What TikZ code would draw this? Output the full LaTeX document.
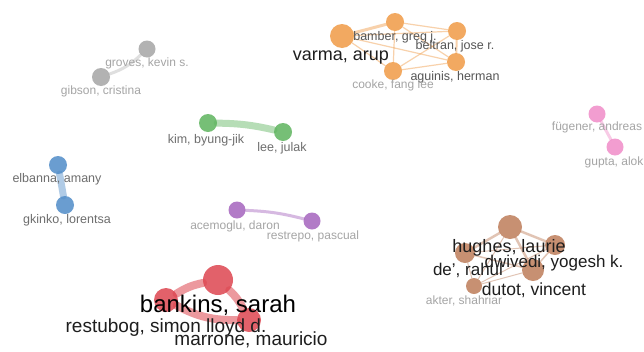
\documentclass[tikz,border=0pt]{standalone}
\usepackage{fontspec}
\setmainfont{Liberation Sans}
\begin{document}
\begin{tikzpicture}[x=1pt,y=-1pt,
  vn/.style={circle,inner sep=0pt,minimum size=#1,fill opacity=0.85,draw=none},
  lab/.style={inner sep=0pt,anchor=center},
  fs/.style={font=\fontsize{#1}{#1}\selectfont},
  ed/.style={line cap=round,draw opacity=0.45}]
\definecolor{corange}{RGB}{240,155,70}
\definecolor{cred}{RGB}{222,70,80}
\definecolor{cgreen}{RGB}{95,180,95}
\definecolor{cblue}{RGB}{80,140,200}
\definecolor{cpurple}{RGB}{165,100,190}
\definecolor{cpink}{RGB}{240,140,200}
\definecolor{cbrown}{RGB}{190,125,90}
\definecolor{cgray}{RGB}{165,165,165}
\definecolor{tdark}{RGB}{30,30,30}
\definecolor{tmid}{RGB}{85,85,85}
\definecolor{tgray}{RGB}{110,110,110}
\definecolor{tlight}{RGB}{165,165,165}
\useasboundingbox (0,0) rectangle (644,351);
\fill[white] (0,0) rectangle (644,351);

% ---------- nodes ----------
% orange
\node[vn=24,fill=corange] (varma) at (342,36) {};
\node[vn=18,fill=corange] (bamber) at (395,22) {};
\node[vn=18,fill=corange] (beltran) at (457,31) {};
\node[vn=18,fill=corange] (aguinis) at (456,62) {};
\node[vn=18,fill=corange] (cooke) at (393,71) {};
% gray
\node[vn=17,fill=cgray] (groves) at (147,49) {};
\node[vn=18,fill=cgray] (gibson) at (101,77) {};
% green
\node[vn=18,fill=cgreen] (kim) at (208,123) {};
\node[vn=18,fill=cgreen] (lee) at (283,132) {};
% blue
\node[vn=18,fill=cblue] (elbanna) at (58,165) {};
\node[vn=18,fill=cblue] (gkinko) at (65,205) {};
% purple
\node[vn=17,fill=cpurple] (acemoglu) at (237,210) {};
\node[vn=17,fill=cpurple] (restrepo) at (312,221) {};
% pink
\node[vn=17,fill=cpink] (fugener) at (597,114) {};
\node[vn=17,fill=cpink] (gupta) at (615,147) {};
% brown
\node[vn=24,fill=cbrown] (hughes) at (510,227) {};
\node[vn=20,fill=cbrown] (dwivedi) at (555,245) {};
\node[vn=20,fill=cbrown] (derahul) at (465,253) {};
\node[vn=22,fill=cbrown] (dutot) at (533,270) {};
\node[vn=16,fill=cbrown] (akter) at (474,286) {};
% red
\node[vn=30,fill=cred] (bankins) at (218,280) {};
\node[vn=24,fill=cred] (restubog) at (166,300) {};
\node[vn=24,fill=cred] (marrone) at (249,320) {};

% ---------- edges ----------
\begin{scope}[ed,corange]
\draw[line width=3pt] (varma) -- (bamber);
\draw[line width=1.2pt] (varma) -- (beltran);
\draw[line width=1.2pt] (varma) -- (aguinis);
\draw[line width=1.2pt] (varma) -- (cooke);
\draw[line width=1.2pt] (bamber) -- (beltran);
\draw[line width=1.2pt] (bamber) -- (aguinis);
\draw[line width=1.2pt] (bamber) -- (cooke);
\draw[line width=2pt] (beltran) -- (aguinis);
\draw[line width=1.2pt] (cooke) -- (aguinis);
\draw[line width=1.2pt] (cooke) -- (beltran);
\end{scope}
\draw[ed,cgray,line width=3pt,draw opacity=0.35] (groves) to[bend left=12] (gibson);
\draw[ed,cgreen,line width=7pt] (kim) to[bend left=6] (lee);
\draw[ed,cblue,line width=7pt] (elbanna) -- (gkinko);
\draw[ed,cpurple,line width=3pt] (acemoglu) to[bend left=6] (restrepo);
\draw[ed,cpink,line width=3pt] (fugener) -- (gupta);
\begin{scope}[ed,cbrown]
\draw[line width=2.5pt] (hughes) -- (dwivedi);
\draw[line width=2.5pt] (hughes) -- (derahul);
\draw[line width=2.5pt] (hughes) -- (dutot);
\draw[line width=1pt] (hughes) -- (akter);
\draw[line width=1.5pt] (dwivedi) -- (dutot);
\draw[line width=1pt] (dwivedi) -- (derahul);
\draw[line width=1pt] (dwivedi) -- (akter);
\draw[line width=1.5pt] (derahul) -- (dutot);
\draw[line width=1pt] (derahul) -- (akter);
\draw[line width=1pt] (dutot) -- (akter);
\end{scope}
\begin{scope}[ed,cred,line width=8pt,draw opacity=0.55]
\draw (bankins) to[bend right=10] (restubog);
\draw (bankins) to[bend left=10] (marrone);
\draw (restubog) to[bend right=14] (marrone);
\end{scope}

% ---------- labels ----------
\node[lab,fs=18,text=tdark] at (341,58) {varma, arup};
\node[lab,fs=12.5,text=tmid] at (395,37) {bamber, greg j.};
\node[lab,fs=12.5,text=tmid] at (455,46) {beltran, jose r.};
\node[lab,fs=12.5,text=tmid] at (455,77) {aguinis, herman};
\node[lab,fs=12,text=tlight] at (393,85) {cooke, fang lee};

\node[lab,fs=12,text=tlight] at (147,63) {groves, kevin s.};
\node[lab,fs=12,text=tlight] at (101,91) {gibson, cristina};

\node[lab,fs=12.5,text=tgray] at (206,140) {kim, byung-jik};
\node[lab,fs=12.5,text=tgray] at (282,148) {lee, julak};

\node[lab,fs=12.5,text=tgray] at (57,179) {elbanna, amany};
\node[lab,fs=12.5,text=tgray] at (67,220) {gkinko, lorentsa};

\node[lab,fs=12,text=tlight] at (235,226) {acemoglu, daron};
\node[lab,fs=12,text=tlight] at (313,236) {restrepo, pascual};

\node[lab,fs=12,text=tlight] at (597,127) {fügener, andreas};
\node[lab,fs=12,text=tlight] at (614,162) {gupta, alok};

\node[lab,fs=18,text=tdark] at (509,248) {hughes, laurie};
\node[lab,fs=17,text=tdark] at (554,263) {dwivedi, yogesh k.};
\node[lab,fs=17,text=tdark] at (468,270) {de', rahul};
\node[lab,fs=17.5,text=tdark] at (534,290) {dutot, vincent};
\node[lab,fs=12,text=tlight] at (464,301) {akter, shahriar};

\node[lab,fs=24,text=black] at (218,305) {bankins, sarah};
\node[lab,fs=19,text=tdark] at (166,328) {restubog, simon lloyd d.};
\node[lab,fs=19,text=tdark] at (251,340) {marrone, mauricio};
\end{tikzpicture}
\end{document}
